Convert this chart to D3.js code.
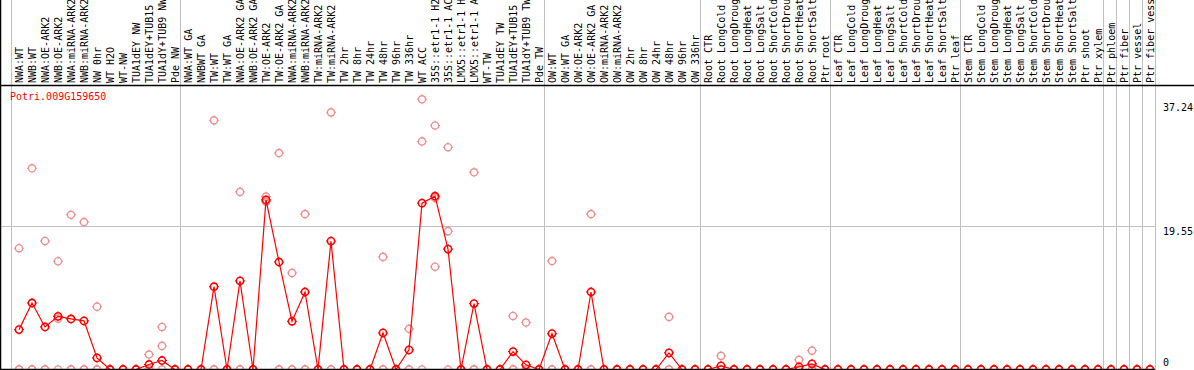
<!DOCTYPE html>
<html><head><meta charset="utf-8">
<script src="https://cdn.jsdelivr.net/npm/d3@7"></script>
<style>
html,body{margin:0;padding:0;background:#fff;overflow:hidden}
text{font-family:"DejaVu Sans Mono",monospace;font-size:10px}
</style></head><body>
<script>
const title = "Potri.009G159650";
const categories = [
"NWA:WT","NWB:WT","NWA:OE-ARK2","NWB:OE-ARK2","NWA:miRNA-ARK2","NWB:miRNA-ARK2","NW 0hr","WT H2O","WT-NW","TUA1dEY NW",
"TUA1dEY+TUB15 NW","TUA1dY+TUB9 NW","Pde NW","NWA:WT GA","NWBWT GA","TW:WT","TW:WT GA","NWA:OE-ARK2 GA","NWB:OE-ARK2 GA","TW:OE-ARK2",
"TW:OE-ARK2 GA","NWA:miRNA-ARK2 GA","NWB:miRNA-ARK2 GA","TW:miRNA-ARK2","TW:miRNA-ARK2 GA","TW 2hr","TW 8hr","TW 24hr","TW 48hr","TW 96hr",
"TW 336hr","WT ACC","35S::etr1-1 H2O","35S::etr1-1 ACC","LMX5::etr1-1 H2O","LMX5::etr1-1 ACC","WT-TW","TUA1dEY TW","TUA1dEY+TUB15 TW","TUA1dY+TUB9 TW",
"Pde TW","OW:WT","OW:WT GA","OW:OE-ARK2","OW:OE-ARK2 GA","OW:miRNA-ARK2","OW:miRNA-ARK2 GA","OW 2hr","OW 8hr","OW 24hr",
"OW 48hr","OW 96hr","OW 336hr","Root CTR","Root LongCold","Root LongDrought","Root LongHeat","Root LongSalt","Root ShortCold","Root ShortDrought",
"Root ShortHeat","Root ShortSalt","Ptr root","Leaf CTR","Leaf LongCold","Leaf LongDrought","Leaf LongHeat","Leaf LongSalt","Leaf ShortCold","Leaf ShortDrought",
"Leaf ShortHeat","Leaf ShortSalt","Ptr leaf","Stem CTR","Stem LongCold","Stem LongDrought","Stem LongHeat","Stem LongSalt","Stem ShortCold","Stem ShortDrought",
"Stem ShortHeat","Stem ShortSalt","Ptr shoot","Ptr xylem","Ptr phloem","Ptr fiber","Ptr vessel","Ptr fiber vessel"];

const means = [
5.49,9.16,5.86,7.32,6.96,6.69,1.6,0,0,0,
0.69,1.24,0,0,0,11.4,0,12.2,0,23.35,
14.8,6.64,10.67,0,17.68,0,0,0,5.04,0,
2.7,22.9,23.86,16.58,0,9.07,0,0,2.47,0.64,
0,4.94,0,0,10.67,0,0,0,0,0,
2.29,0,0,0,0.5,0,0,0,0,0,
0.37,0.78,0,0,0,0,0,0,0,0,
0,0,0,0,0,0,0,0,0,0,
0,0,0,0,0,0,0,0];

const replicates = [
[16.7,0,0],[27.7,0,0],[17.7,0,0],[14.9,7.0,0],[21.3,0,0],[20.3,0,0],[8.65,0,0],[0,0,0],[0,0,0],[0,0,0],
[2.06,0,0],[5.86,3.25,0],[0,0,0],[0,0,0],[0,0,0],[34.3,0,0],[0,0,0],[24.45,0,0],[0,0,0],[23.8,23.1,23.2],
[29.8,0,0],[13.3,0,0],[21.4,0,0],[0,0,0],[35.4,0,0],[0,0,0],[0,0,0],[0,0,0],[15.5,0,0],[0,0,0],
[5.6,0,0],[37.2,31.4,0],[33.6,23.6,14.15],[30.6,19.05,0],[0,0,0],[27.15,0,0],[0,0,0],[0,0,0],[7.37,0,0],[6.46,0,0],
[0,0,0],[14.93,0,0],[0,0,0],[0,0,0],[21.4,0,0],[0,0,0],[0,0,0],[0,0,0],[0,0,0],[0,0,0],
[7.24,0,0],[0,0,0],[0,0,0],[0,0,0],[1.88,0,0],[0,0,0],[0,0,0],[0,0,0],[0,0,0],[0,0,0],
[1.33,0,0],[2.6,0,0],[0,0,0],[0,0,0],[0,0,0],[0,0,0],[0,0,0],[0,0,0],[0,0,0],[0,0,0],
[0,0,0],[0,0,0],[0,0,0],[0,0,0],[0,0,0],[0,0,0],[0,0,0],[0,0,0],[0,0,0],[0,0,0],
[0,0,0],[0,0,0],[0,0,0],[0,0,0],[0,0,0],[0,0,0],[0,0,0],[0,0,0]];

const groupStarts = [0,13,41,53,63,73,84,85,86,87,88];
const yTicks = [37.24,19.55,0];
const hGrid = [19.55];

const W = 1194, H = 370;
const svg = d3.select("body").append("svg").attr("width",W).attr("height",H);

const x = d3.scaleLinear().domain([0, categories.length-1]).range([19, 1150]);
const y = d3.scaleLinear().domain([0, 37.24]).range([369.5, 99]);
const plotRight = x(88) - 8;

svg.append("g").selectAll("line").data(groupStarts).join("line")
  .attr("x1", d => Math.round(x(d) - 8) + 0.5).attr("x2", d => Math.round(x(d) - 8) + 0.5)
  .attr("y1", 0).attr("y2", H)
  .attr("stroke", "#c0c0c0").attr("stroke-width", 1);

svg.append("g").selectAll("line").data(hGrid).join("line")
  .attr("x1", 0).attr("x2", plotRight)
  .attr("y1", d => Math.round(y(d)) - 0.5).attr("y2", d => Math.round(y(d)) - 0.5)
  .attr("stroke", "#c0c0c0").attr("stroke-width", 1);

const tickPath = "M0,-5V-4M0,4V5M-5,0H-4M4,0H5";
function marker(sel, color, width) {
  sel.append("circle").attr("r", 3.6).attr("fill", "none").attr("stroke", color).attr("stroke-width", width);
  sel.append("path").attr("d", tickPath).attr("stroke", color).attr("stroke-width", 1);
}

const repData = [];
replicates.forEach((arr, i) => arr.forEach(v => repData.push({i, v})));
svg.append("g").selectAll("g").data(repData).join("g")
  .attr("transform", d => `translate(${x(d.i)},${y(d.v)})`)
  .call(marker, "#ee8f8f", 1.4);

svg.append("path").datum(means)
  .attr("d", d3.line().x((d,i) => x(i)).y(d => y(d)))
  .attr("fill", "none").attr("stroke", "#ff0000").attr("stroke-width", 1.2);

svg.append("g").selectAll("g").data(means).join("g")
  .attr("transform", (d,i) => `translate(${x(i)},${y(d)})`)
  .call(marker, "#ff0000", 1.6);

svg.append("line").attr("x1", 0.5).attr("x2", 0.5).attr("y1", 0).attr("y2", H).attr("stroke", "#000").attr("stroke-width", 1.5);
svg.append("line").attr("x1", 0).attr("x2", W).attr("y1", 85.5).attr("y2", 85.5).attr("stroke", "#000").attr("stroke-width", 1.5);
svg.append("line").attr("x1", 0).attr("x2", plotRight).attr("y1", 369.5).attr("y2", 369.5).attr("stroke", "#000").attr("stroke-width", 1.5);

svg.append("g").selectAll("text").data(categories).join("text")
  .attr("transform", (d,i) => `translate(${x(i) + 4},83) rotate(-90)`)
  .attr("text-anchor", "start").attr("fill", "#000")
  .text(d => d);

svg.append("text").attr("x", 10).attr("y", 100).attr("fill", "#ff0000").text(title);

svg.append("g").selectAll("text").data(yTicks).join("text")
  .attr("x", 1163)
  .attr("y", d => d === 0 ? y(d) - 4 : (d === 37.24 ? y(d) + 12 : y(d) + 8))
  .attr("fill", "#000")
  .text(d => d);
</script>
</body></html>
